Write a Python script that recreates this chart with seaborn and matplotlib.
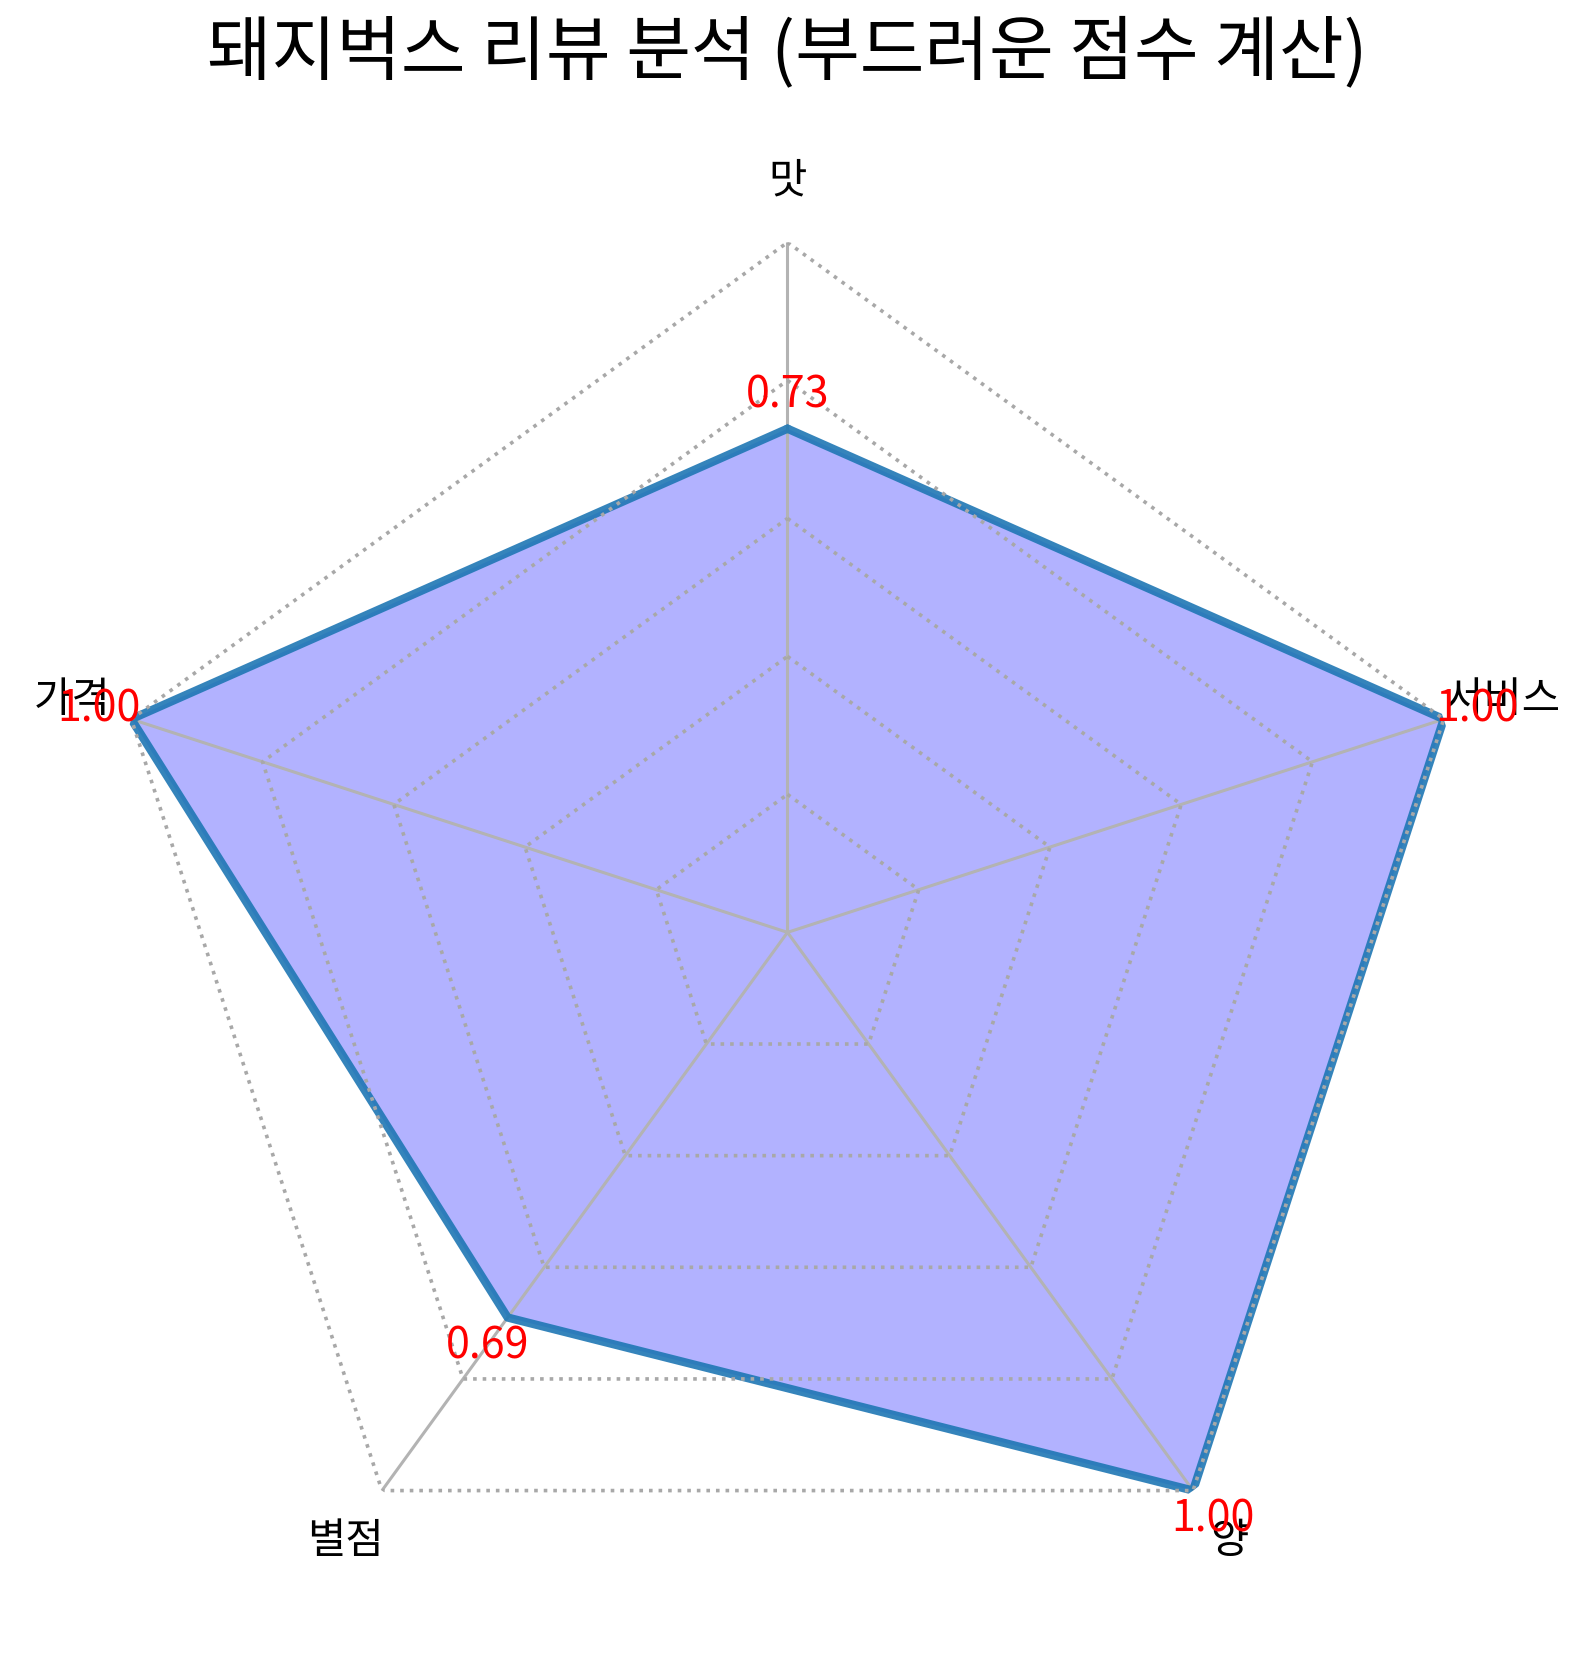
import numpy as np
import matplotlib.pyplot as plt
import seaborn as sns

categories = ['맛', '서비스', '양', '별점', '가격']
scores = [0.73, 1.00, 1.00, 0.69, 1.00]
levels = [0.2, 0.4, 0.6, 0.8, 1.0]
title = '돼지벅스 리뷰 분석 (부드러운 점수 계산)'

sns.set_theme(style='white')
plt.rcParams['font.family'] = ['Noto Sans CJK KR', 'DejaVu Sans']
plt.rcParams['text.color'] = 'black'

angles = np.linspace(0, 2 * np.pi, len(categories), endpoint=False)
ang_c = np.append(angles, angles[0])
vals_c = np.append(scores, scores[0])

fig = plt.figure(figsize=(7.965, 8.29), dpi=200)
ax = fig.add_axes([0.0612, 0.0209, 0.8663, 0.8323], polar=True)
ax.set_theta_offset(np.pi / 2)
ax.set_theta_direction(-1)
ax.set_ylim(0, 1)
ax.set_xticks([])
ax.set_yticks([])
ax.grid(False)
ax.spines['polar'].set_visible(False)
ax.set_facecolor('white')

# fill + outline
ax.fill(ang_c, vals_c, color='blue', alpha=0.3, lw=0, zorder=2)
for a in angles:
    ax.plot([a, a], [0, 1], color='#b3b3b3', lw=1.1, zorder=2.5)
ax.plot(ang_c, vals_c, color='#1f77b4', alpha=0.9, lw=3.0, zorder=3)

# pentagon grid rings
for lvl in levels:
    ax.plot(ang_c, [lvl] * len(ang_c), ls=':', color='#a8a8a8', lw=1.3, zorder=4)

for a, name in zip(angles, categories):
    ax.text(a, 1.09, name, ha='center', va='center', fontsize=15, color='black')

for a, v in zip(angles, scores):
    ax.text(a, v + 0.05, f'{v:.2f}', ha='center', va='center', fontsize=15.5,
            color='red', zorder=5)

fig.text(0.494, 0.968, title, ha='center', va='center', fontsize=25.3, color='black')

fig.savefig('out.png', dpi=200)
